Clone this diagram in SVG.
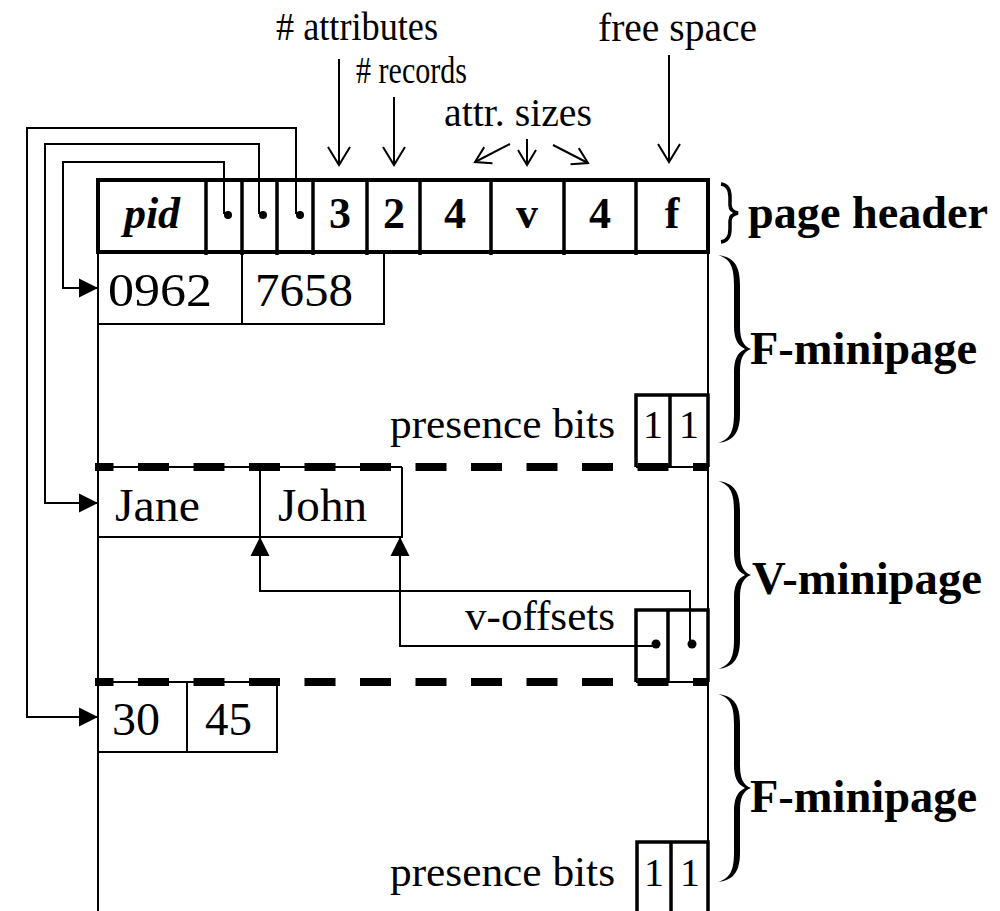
<svg xmlns="http://www.w3.org/2000/svg" width="1000" height="911" viewBox="0 0 1000 911">
<style>
.t{font-family:"Liberation Serif","Times New Roman",serif;fill:#000}
.b{font-weight:bold}
.ln{stroke:#000;stroke-width:2;fill:none}
.tk{stroke:#000;stroke-width:4;fill:none}
.md{stroke:#000;stroke-width:3.5;fill:none}
.dash{stroke:#000;stroke-width:8;fill:none;stroke-dasharray:31 24.5}
.dot{fill:#000}
</style>
<defs>
<marker id="open" markerUnits="userSpaceOnUse" viewBox="-20 -13 22 26" refX="0" refY="0" markerWidth="22" markerHeight="26" orient="auto" overflow="visible">
<path d="M-18,-11 L0,0 L-18,11" fill="none" stroke="#000" stroke-width="2"/>
</marker>
<marker id="openS" markerUnits="userSpaceOnUse" viewBox="-20 -13 22 26" refX="0" refY="0" markerWidth="22" markerHeight="26" orient="auto" overflow="visible">
<path d="M-15,-9 L0,0 L-15,9" fill="none" stroke="#000" stroke-width="2"/>
</marker>
<marker id="fill" markerUnits="userSpaceOnUse" viewBox="-20 -11 22 22" refX="0" refY="0" markerWidth="22" markerHeight="22" orient="auto" overflow="visible">
<path d="M-19,-9.5 L0,0 L-19,9.5 Z" fill="#000"/>
</marker>
<path id="brace" fill="#000" d="M0,0 C17,2 22,12 22,30 L22,71 C22,84 25,91 33,94 C25,97 22,104 22,117 L22,158 C22,176 17,186 0,188 C13,184 16,175 16,158 L16,117 C16,105 19,98 27,94 C19,90 16,83 16,71 L16,30 C16,13 13,4 0,0 Z"/>
</defs>
<rect width="1000" height="911" fill="#fff"/>

<g id="labels">
<text class="t" x="276" y="40" font-size="39" textLength="162" lengthAdjust="spacingAndGlyphs"># attributes</text>
<text class="t" x="356" y="83" font-size="38" textLength="111" lengthAdjust="spacingAndGlyphs"># records</text>
<text class="t" x="444" y="126" font-size="39" textLength="148" lengthAdjust="spacingAndGlyphs">attr. sizes</text>
<text class="t" x="598" y="41" font-size="39" textLength="159" lengthAdjust="spacingAndGlyphs">free space</text>
</g>

<g id="page-outline">
<line class="ln" x1="98" y1="252" x2="98" y2="911"/>
<line class="ln" x1="708" y1="252" x2="708" y2="911"/>
</g>

<g id="page-header">
<rect class="tk" x="98" y="180" width="610" height="72"/>
<g class="md">
<line x1="206" y1="178" x2="206" y2="255"/>
<line x1="242" y1="178" x2="242" y2="255"/>
<line x1="277" y1="178" x2="277" y2="255"/>
<line x1="313" y1="178" x2="313" y2="255"/>
<line x1="367" y1="178" x2="367" y2="255"/>
<line x1="420" y1="178" x2="420" y2="255"/>
<line x1="491" y1="178" x2="491" y2="255"/>
<line x1="564" y1="178" x2="564" y2="255"/>
<line x1="636" y1="178" x2="636" y2="255"/>
</g>
<text class="t b" x="152" y="228" font-size="44" font-style="italic" text-anchor="middle">pid</text>
<circle class="dot" cx="228" cy="215" r="4"/>
<circle class="dot" cx="263" cy="215" r="4"/>
<circle class="dot" cx="300" cy="215" r="4"/>
<text class="t b" x="340" y="228" font-size="44" text-anchor="middle">3</text>
<text class="t b" x="394" y="228" font-size="44" text-anchor="middle">2</text>
<text class="t b" x="455" y="228" font-size="44" text-anchor="middle">4</text>
<text class="t b" x="527" y="228" font-size="44" text-anchor="middle">v</text>
<text class="t b" x="600" y="228" font-size="44" text-anchor="middle">4</text>
<text class="t b" x="672" y="228" font-size="44" text-anchor="middle">f</text>
<path class="md" d="M721,184 C728,185 730,190 730,197 L730,205 C730,210 733,212 738,213 C733,214 730,216 730,221 L730,229 C730,236 728,241 721,242"/>
<text class="t b" x="748" y="228" font-size="46" textLength="240" lengthAdjust="spacingAndGlyphs">page header</text>
</g>

<g id="f-minipage-1">
<path class="ln" d="M98,324 L384,324 L384,252 M242,252 L242,324"/>
<text class="t" x="108" y="306" font-size="46" textLength="104" lengthAdjust="spacingAndGlyphs">0962</text>
<text class="t" x="255" y="306" font-size="46" textLength="98" lengthAdjust="spacingAndGlyphs">7658</text>
<text class="t" x="390" y="438" font-size="43" textLength="225" lengthAdjust="spacingAndGlyphs">presence bits</text>
<path class="md" d="M636,467 L636,395 L708,395 L708,467 M670,395 L670,467"/>
<line class="ln" x1="636" y1="467" x2="708" y2="467"/>
<text class="t" x="653" y="438" font-size="40" text-anchor="middle">1</text>
<text class="t" x="689" y="438" font-size="40" text-anchor="middle">1</text>
<use href="#brace" x="718" y="255"/>
<text class="t b" x="750" y="364" font-size="46" textLength="227" lengthAdjust="spacingAndGlyphs">F-minipage</text>
</g>

<g id="v-minipage">
<line class="ln" x1="98" y1="467" x2="402" y2="467"/>
<line class="dash" x1="95" y1="467" x2="708" y2="467" stroke-dashoffset="12.5"/>
<path class="ln" d="M98,537 L402,537 L402,467 M260,467 L260,537"/>
<text class="t" x="115" y="521" font-size="46" textLength="85" lengthAdjust="spacingAndGlyphs">Jane</text>
<text class="t" x="278" y="521" font-size="46" textLength="89" lengthAdjust="spacingAndGlyphs">John</text>
<text class="t" x="465" y="630" font-size="43" textLength="150" lengthAdjust="spacingAndGlyphs">v-offsets</text>
<path class="md" d="M636,682 L636,610 L708,610 L708,682 M668,610 L668,682"/>
<line class="ln" x1="636" y1="682" x2="708" y2="682"/>
<circle class="dot" cx="656" cy="644" r="4.5"/>
<circle class="dot" cx="692" cy="644" r="4.5"/>
<use href="#brace" x="718" y="481"/>
<text class="t b" x="752" y="594" font-size="46" textLength="230" lengthAdjust="spacingAndGlyphs">V-minipage</text>
</g>

<g id="f-minipage-2">
<line class="ln" x1="98" y1="682" x2="277" y2="682"/>
<line class="dash" x1="95" y1="682" x2="708" y2="682" stroke-dashoffset="12.5"/>
<path class="ln" d="M98,752 L277,752 L277,682 M187,682 L187,752"/>
<text class="t" x="112" y="735" font-size="46" textLength="48" lengthAdjust="spacingAndGlyphs">30</text>
<text class="t" x="205" y="735" font-size="46" textLength="47" lengthAdjust="spacingAndGlyphs">45</text>
<text class="t" x="390" y="886" font-size="43" textLength="225" lengthAdjust="spacingAndGlyphs">presence bits</text>
<path class="md" d="M637,911 L637,842 L708,842 L708,911 M671,842 L671,911"/>
<text class="t" x="654" y="886" font-size="40" text-anchor="middle">1</text>
<text class="t" x="690" y="886" font-size="40" text-anchor="middle">1</text>
<use href="#brace" x="718" y="694"/>
<text class="t b" x="750" y="812" font-size="46" textLength="227" lengthAdjust="spacingAndGlyphs">F-minipage</text>
</g>

<g id="connectors">
<line class="ln" x1="339" y1="59" x2="339" y2="165" marker-end="url(#open)"/>
<line class="ln" x1="394" y1="97" x2="394" y2="165" marker-end="url(#open)"/>
<line class="ln" x1="527" y1="139" x2="527" y2="165" marker-end="url(#openS)"/>
<line class="ln" x1="510" y1="144" x2="475" y2="162" marker-end="url(#openS)"/>
<line class="ln" x1="553" y1="145" x2="588" y2="163" marker-end="url(#openS)"/>
<line class="ln" x1="669" y1="55" x2="669" y2="162" marker-end="url(#open)"/>
<path class="ln" d="M224,214 L224,162 L63,162 L63,288 L98,288" marker-end="url(#fill)"/>
<path class="ln" d="M259,214 L259,144 L45,144 L45,503 L98,503" marker-end="url(#fill)"/>
<path class="ln" d="M296,214 L296,128 L27,128 L27,717 L98,717" marker-end="url(#fill)"/>
<path class="ln" d="M690,644 L690,591 L260,591 L260,537" marker-end="url(#fill)"/>
<path class="ln" d="M653,646 L400,646 L400,537" marker-end="url(#fill)"/>
</g>
</svg>
